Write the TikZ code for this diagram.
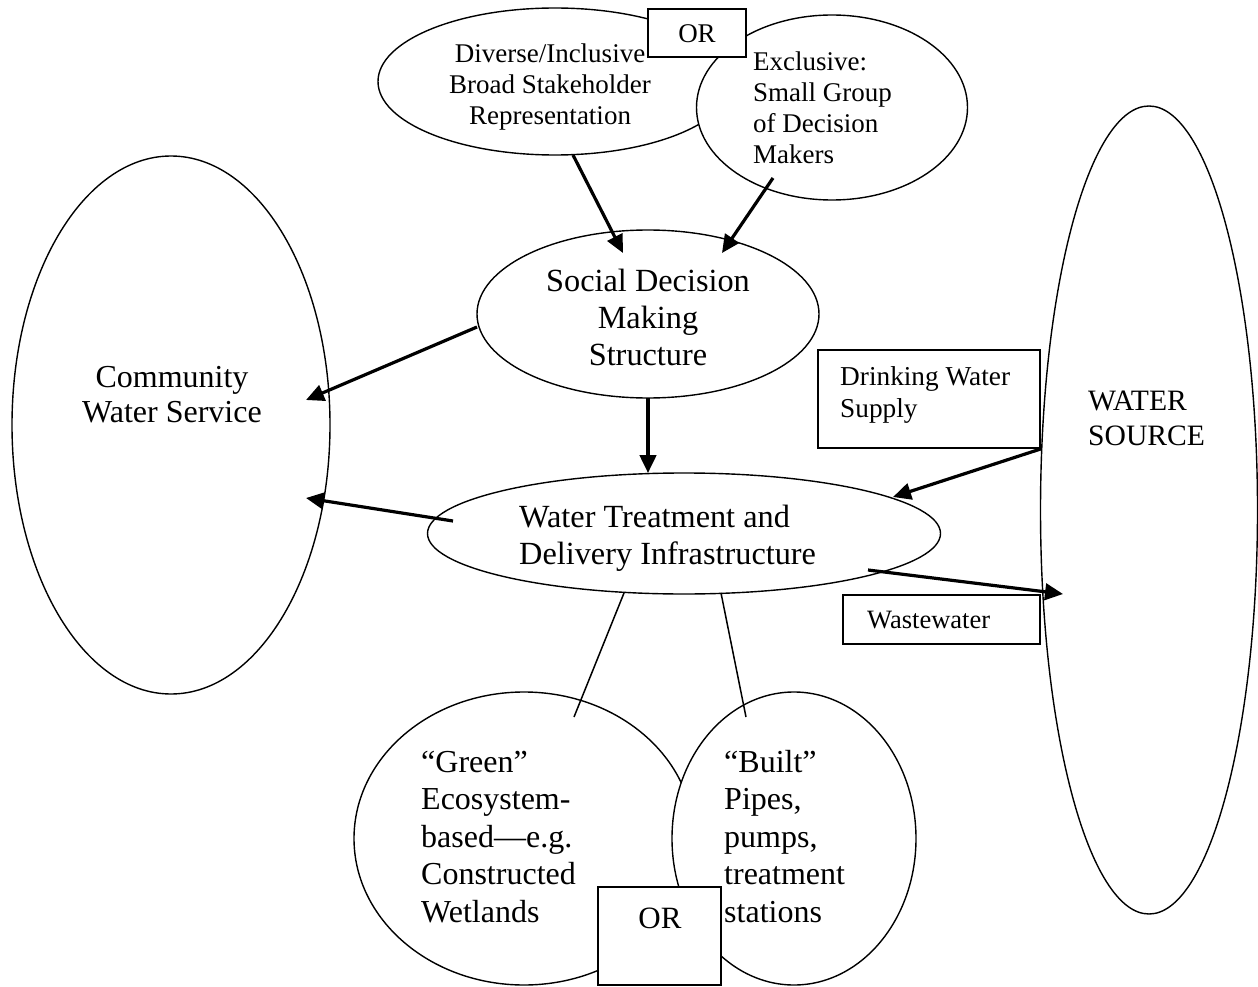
\documentclass[tikz,border=0pt]{standalone}
\usepackage{fontspec}
\setmainfont{Liberation Serif}
\usetikzlibrary{shapes.geometric,arrows.meta}
\newcommand{\txl}[1]{\begin{tabular}[t]{@{}l@{}}#1\end{tabular}}
\newcommand{\txc}[1]{\begin{tabular}[t]{@{}c@{}}#1\end{tabular}}
\begin{document}
\begin{tikzpicture}[x=1pt,y=-1pt,
  oval/.style={draw, ellipse, line width=1.4pt, fill=white, inner sep=0pt},
  boxn/.style={draw, rectangle, line width=1.8pt, fill=white, inner sep=0pt},
  arr/.style={line width=3.2pt, -{Triangle[length=18pt,width=16.5pt]}},
  thinline/.style={line width=1.5pt},
  txt/.style={inner sep=0pt, anchor=base},
  txtl/.style={inner sep=0pt, anchor=base west},
  bigf/.style={font=\fontsize{32.3}{37}\selectfont},
  midf/.style={font=\fontsize{27}{30.7}\selectfont},
]
\useasboundingbox (0,0) rectangle (1258,987);
\fill[white] (0,0) rectangle (1258,987);

% big ellipses
\node[oval, minimum width=318pt, minimum height=538pt] (com) at (171,425) {};
\node[oval, minimum width=342pt, minimum height=168pt] (soc) at (648,314) {};
\node[oval, minimum width=513pt, minimum height=121pt] (wt) at (684,533.5) {};
\node[oval, minimum width=217pt, minimum height=808pt] (ws) at (1149,510) {};

% boxes on the right
\node[boxn, minimum width=222pt, minimum height=98pt] (dws) at (929,399) {};
\node[boxn, minimum width=197pt, minimum height=49pt] (wwb) at (941.5,619.5) {};

% top pair
\node[oval, minimum width=354pt, minimum height=147pt] (div) at (555,81.5) {};
\node[oval, minimum width=271pt, minimum height=185pt] (exc) at (832,107.5) {};
\node[boxn, minimum width=98pt, minimum height=48pt] (ortop) at (697,33) {};

% bottom pair
\node[oval, minimum width=340pt, minimum height=293pt] (grn) at (524,838.5) {};
\node[oval, minimum width=244pt, minimum height=293pt] (blt) at (794,838.5) {};
\node[boxn, minimum width=123pt, minimum height=98pt] (orbot) at (659.5,936) {};

% connector end points
\coordinate (a1s) at (573,155);  \coordinate (a1t) at (623,253);
\coordinate (a2s) at (773,178);  \coordinate (a2t) at (722,253);
\coordinate (a3s) at (477,327);  \coordinate (a3t) at (306,400);
\coordinate (a4s) at (648,398);  \coordinate (a4t) at (648,473);
\coordinate (a5s) at (453,521);  \coordinate (a5t) at (306,498);
\coordinate (a6t) at (893,497);
\coordinate (a7s) at (868,570);  \coordinate (a7t) at (1063,594);
\coordinate (l1s) at (624,593);  \coordinate (l1t) at (574,717);
\coordinate (l2s) at (721,593);  \coordinate (l2t) at (746,717);

\draw[arr] (a1s) -- (a1t);
\draw[arr] (a2s) -- (a2t);
\draw[arr] (a3s) -- (a3t);
\draw[arr] (a4s) -- (a4t);
\draw[arr] (a5s) -- (a5t);
\draw[arr] (dws.south east) -- (a6t);
\draw[arr] (a7s) -- (a7t);
\draw[thinline] (l1s) -- (l1t);
\draw[thinline] (l2s) -- (l2t);

% texts
\node[txt, midf] (tdiv) at (550,63) {\txc{Diverse/Inclusive\\Broad Stakeholder\\Representation}};
\node[txtl, midf] (texc) at (753,71) {\txl{Exclusive:\\Small Group\\of Decision\\Makers}};
\node[txt, font=\fontsize{27}{31}\selectfont] (tort) at (697,43) {OR};
\node[txt, bigf] (tsoc) at (648,291) {\txc{Social Decision\\Making\\Structure}};
\node[txt, font=\fontsize{32}{35}\selectfont] (tcom) at (172,387) {\txc{Community\\Water Service}};
\node[txtl, bigf] (twt) at (519,527) {\txl{Water Treatment and\\Delivery Infrastructure}};
\node[txtl, font=\fontsize{27.3}{32}\selectfont] (tdws) at (840,385) {\txl{Drinking Water\\Supply}};
\node[txtl, font=\fontsize{29.6}{35}\selectfont] (tws) at (1088,410) {\txl{WATER\\SOURCE}};
\node[txtl, font=\fontsize{26.5}{31}\selectfont] (tww) at (867,628) {Wastewater};
\node[txtl, font=\fontsize{32}{37.5}\selectfont] (tgrn) at (421,772) {\txl{“Green”\\Ecosystem-\\based—e.g.\\Constructed\\Wetlands}};
\node[txtl, font=\fontsize{32}{37.5}\selectfont] (tblt) at (724,772) {\txl{“Built”\\Pipes,\\pumps,\\treatment\\stations}};
\node[txt, font=\fontsize{31}{35}\selectfont] (torb) at (660,928) {OR};
\end{tikzpicture}
\end{document}
